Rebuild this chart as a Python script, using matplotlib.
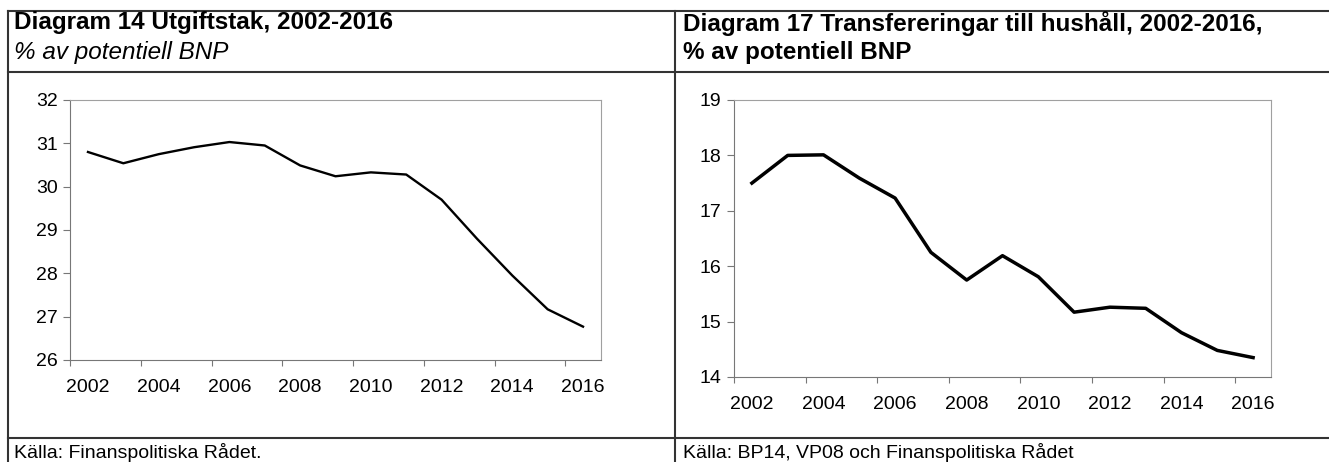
import numpy as np
import matplotlib
matplotlib.use("Agg")
import matplotlib.pyplot as plt
from matplotlib.lines import Line2D

plt.rcParams['font.family'] = ['Liberation Sans', 'DejaVu Sans']

years = np.arange(2002, 2017)
utgiftstak = [30.80, 30.54, 30.75, 30.91, 31.03, 30.95, 30.49, 30.24, 30.33, 30.28,
              29.70, 28.80, 27.95, 27.17, 26.77]
transfer = [17.50, 18.00, 18.01, 17.59, 17.23, 16.25, 15.75, 16.19, 15.81, 15.17,
            15.26, 15.24, 14.80, 14.48, 14.35]
year_labels = [str(y) for y in range(2002, 2017, 2)]

W, H = 1329, 462
fig = plt.figure(figsize=(W / 100, H / 100), dpi=100)

def box(x0, y0, x1, y1):
    return [x0 / W, 1 - y1 / H, (x1 - x0) / W, (y1 - y0) / H]

def style(ax):
    ax.set_xlim(2001.5, 2016.5)
    ax.set_xticks(np.arange(2001.5, 2016, 2))
    ax.set_xticklabels([])
    ax.set_xticks(np.arange(2002, 2017, 2), minor=True)
    ax.set_xticklabels(year_labels, minor=True)
    ax.tick_params(axis='x', which='minor', length=0, pad=14, labelsize=14)
    ax.tick_params(axis='x', which='major', length=4, width=0.8, color='#777777', direction='out')
    ax.tick_params(axis='y', length=5, width=0.8, color='#777777', labelsize=14, pad=4)
    for s in ['top', 'right']:
        ax.spines[s].set_color('#a0a0a0')
        ax.spines[s].set_linewidth(0.8)
    for s in ['left', 'bottom']:
        ax.spines[s].set_color('#777777')
        ax.spines[s].set_linewidth(0.8)

ax1 = fig.add_axes(box(70.3, 100, 600.7, 360))
ax1.plot(years, utgiftstak, color='black', lw=1.7)
ax1.set_ylim(26, 32)
ax1.set_yticks(range(26, 33))
style(ax1)

ax2 = fig.add_axes(box(734, 100, 1271, 377))
ax2.plot(years, transfer, color='black', lw=2.5)
ax2.set_ylim(14, 19)
ax2.set_yticks(range(14, 20))
style(ax2)

# table frame
ov = fig.add_axes([0, 0, 1, 1])
ov.set_xlim(0, W)
ov.set_ylim(H, 0)
ov.axis('off')
frame = dict(color='#333333', lw=1.5)
ov.add_line(Line2D([8, W], [11, 11], **frame))
ov.add_line(Line2D([8, W], [72, 72], **frame))
ov.add_line(Line2D([8, W], [438, 438], **frame))
ov.add_line(Line2D([8, 8], [11, H], **frame))
ov.add_line(Line2D([675, 675], [11, H], **frame))

ov.text(14, 23, 'Diagram 14 Utgiftstak, 2002-2016', fontsize=17.5, fontweight='bold', va='center')
ov.text(14, 52, '% av potentiell BNP', fontsize=17.5, fontstyle='italic', va='center')
ov.text(683, 23, 'Diagram 17 Transfereringar till hushåll, 2002-2016,', fontsize=17.5, fontweight='bold', va='center')
ov.text(683, 52, '% av potentiell BNP', fontsize=17.5, fontweight='bold', va='center')
ov.text(14, 452, 'Källa: Finanspolitiska Rådet.', fontsize=14, va='center')
ov.text(683, 452, 'Källa: BP14, VP08 och Finanspolitiska Rådet', fontsize=14, va='center')

fig.savefig('out.png', dpi=100)
